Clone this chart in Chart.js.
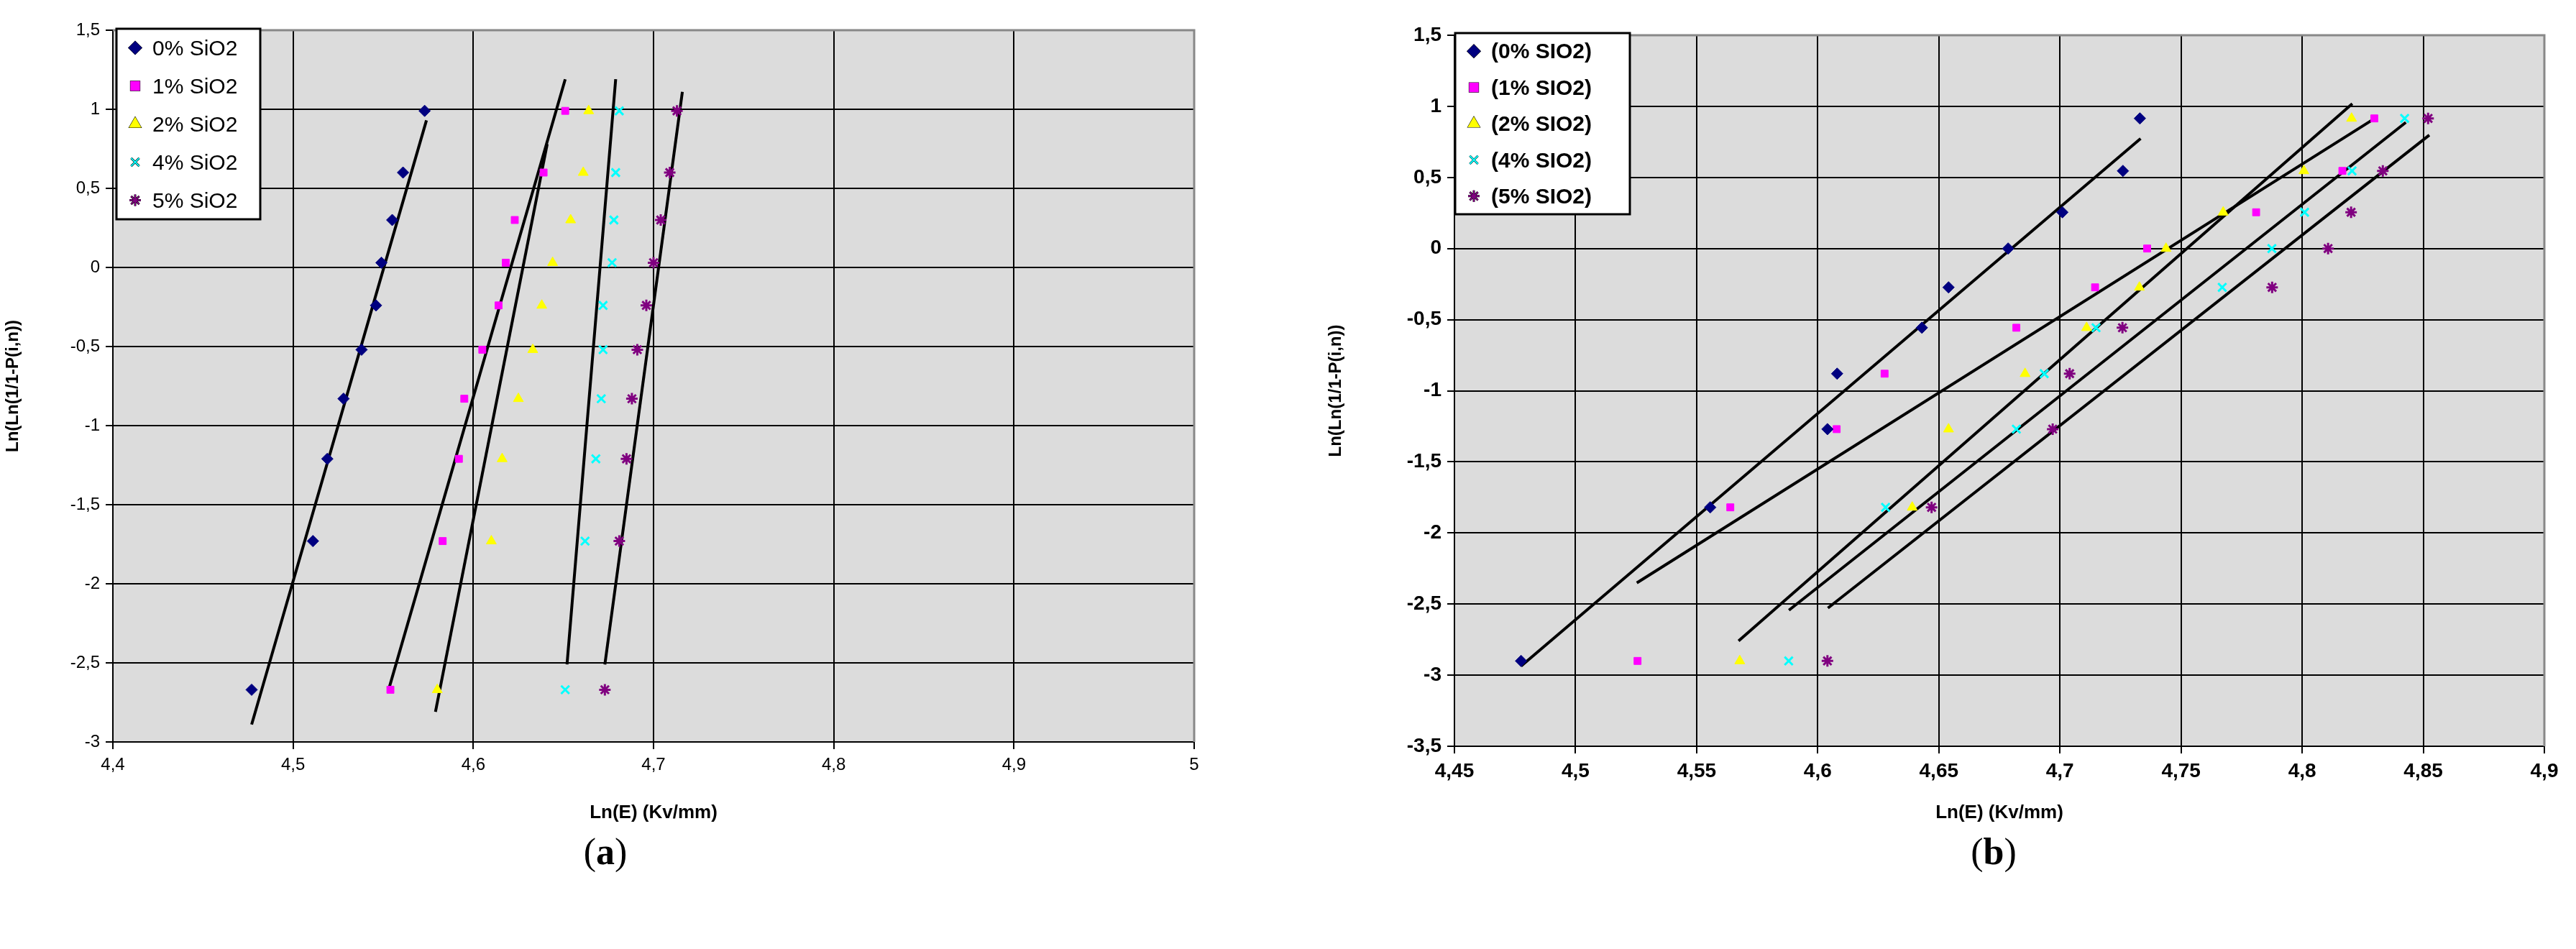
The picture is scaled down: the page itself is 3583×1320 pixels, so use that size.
<!DOCTYPE html>
<html><head><meta charset="utf-8">
<script src="https://cdn.jsdelivr.net/npm/chart.js@4/dist/chart.umd.min.js"></script>
<style>
body{margin:0;width:3583px;height:1320px;background:#fff;position:relative;overflow:hidden}
canvas{position:absolute}
.cap{position:absolute;top:1155px;font-family:"Liberation Serif",serif;font-size:52px;width:200px;text-align:center}
</style></head><body>
<div id="wa" style="position:absolute;left:0;top:0;width:1720px;height:1150px"><canvas id="ca"></canvas></div>
<div id="wb" style="position:absolute;left:1840px;top:0;width:1743px;height:1150px"><canvas id="cb"></canvas></div>
<div class="cap" style="left:742px">(<b>a</b>)</div>
<div class="cap" style="left:2673px">(<b>b</b>)</div>
<script>
// ---- Panel (a) data ----
const labelsA = ["0% SiO2","1% SiO2","2% SiO2","4% SiO2","5% SiO2"];
const yA = [0.99,0.60,0.30,0.03,-0.24,-0.52,-0.83,-1.21,-1.73,-2.67];
const xA0 = [4.573,4.561,4.555,4.549,4.546,4.538,4.528,4.519,4.511,4.477];
const xA1 = [4.651,4.639,4.623,4.618,4.614,4.605,4.595,4.592,4.583,4.554];
const xA2 = [4.664,4.661,4.654,4.644,4.638,4.633,4.625,4.616,4.610,4.580];
const xA4 = [4.681,4.679,4.678,4.677,4.672,4.672,4.671,4.668,4.662,4.651];
const xA5 = [4.713,4.709,4.704,4.700,4.696,4.691,4.688,4.685,4.681,4.673];
const fitA = [[4.477,-2.89,4.574,0.93],[4.553,-2.67,4.651,1.19],[4.579,-2.81,4.641,0.78],[4.652,-2.51,4.679,1.19],[4.673,-2.51,4.716,1.11]];
const xTicksA = {min:4.4,max:5,step:0.1};
const yTicksA = {min:-3,max:1.5,step:0.5};
// ---- Panel (b) data ----
const labelsB = ["(0% SIO2)","(1% SIO2)","(2% SIO2)","(4% SIO2)","(5% SIO2)"];
const yB = [-2.90,-1.82,-1.27,-0.88,-0.557,-0.273,0,0.255,0.546,0.915];
const xB0 = [4.4775,4.5556,4.604,4.608,4.643,4.654,4.6786,4.701,4.726,4.733];
const xB1 = [4.5256,4.5639,4.6078,4.6276,4.682,4.7145,4.736,4.781,4.8166,4.8298];
const xB2 = [4.5678,4.639,4.654,4.6856,4.711,4.7328,4.7438,4.7674,4.8007,4.8204];
const xB4 = [4.588,4.628,4.682,4.6935,4.7149,4.767,4.7875,4.801,4.8206,4.8423];
const xB5 = [4.604,4.647,4.697,4.704,4.7258,4.7876,4.8107,4.8202,4.8333,4.852];
const fitB = [[4.4775,-2.936,4.7333,0.773],[4.5253,-2.351,4.8306,0.922],[4.5673,-2.759,4.8207,1.018],[4.5881,-2.543,4.8428,0.887],[4.6042,-2.528,4.8525,0.798]];
const xTicksB = {min:4.45,max:4.9,step:0.05};
const yTicksB = {min:-3.5,max:1.5,step:0.5};

const colors = ["#000080","#FF00FF","#FFFF00","#00FFFF","#800080"];
const styles = ["rectRot","rect","triangle","crossRot","star"];
const radii = [8,7,8,8,8];

function fmt(v){return Number(v.toFixed(2)).toString().replace('.',',');}

function build(canvasId, labels, xs, ys, fits, xt, yt, o){
  const ds = [];
  xs.forEach((arr,i)=>{
    ds.push({label:labels[i],type:'scatter',data:arr.map((x,k)=>({x:x,y:ys[k]})),
      pointStyle:styles[i],pointRadius:radii[i],backgroundColor:colors[i],borderColor:colors[i],
      borderWidth:(styles[i]=='crossRot'||styles[i]=='star')?3:1,order:1,isPts:true});
  });
  fits.forEach(f=>{
    ds.push({label:'',type:'line',data:[{x:f[0],y:f[1]},{x:f[2],y:f[3]}],borderColor:'#000',borderWidth:4,pointRadius:0,order:2});
  });
  const bgPlugin={id:'bg',beforeDraw(c){const a=c.chartArea,ctx=c.ctx;ctx.save();ctx.fillStyle='#DCDCDC';ctx.fillRect(a.left,a.top,a.right-a.left,a.bottom-a.top);ctx.restore();},
    afterDraw(c){const a=c.chartArea,ctx=c.ctx;ctx.save();ctx.strokeStyle='#888';ctx.lineWidth=3;ctx.beginPath();ctx.moveTo(a.left,a.top);ctx.lineTo(a.right,a.top);ctx.lineTo(a.right,a.bottom);ctx.stroke();
      // legend box
      const L=o.leg;ctx.fillStyle='#fff';ctx.fillRect(L.x,L.y,L.w,L.h);ctx.strokeStyle='#000';ctx.lineWidth=3;ctx.strokeRect(L.x,L.y,L.w,L.h);
      const rh=L.h/5;ctx.font=o.legFont;ctx.textBaseline='middle';
      for(let i=0;i<5;i++){const cy=L.y+rh*(i+0.5);
        Chart.helpers.drawPoint(ctx,{pointStyle:styles[i],radius:o.legR,borderWidth:2,rotation:0},L.x+26,cy);
        ctx.save();ctx.fillStyle=colors[i];ctx.strokeStyle=colors[i];ctx.lineWidth=2;ctx.beginPath();
        Chart.helpers.drawPoint(ctx,{pointStyle:styles[i],radius:o.legR,rotation:0},L.x+26,cy);ctx.fill();ctx.stroke();ctx.restore();
        ctx.fillStyle='#000';ctx.fillText(c.data.datasets[i].label,L.x+50,cy+2);}
      ctx.restore();}};
  return new Chart(document.getElementById(canvasId),{
    data:{datasets:ds},
    plugins:[bgPlugin],
    options:{responsive:true,maintainAspectRatio:false,animation:false,
      layout:{padding:{top:o.top,right:o.right,left:0,bottom:0}},
      plugins:{legend:{display:false},tooltip:{enabled:false}},
      scales:{
        x:{type:'linear',min:xt.min,max:xt.max,
          ticks:{stepSize:xt.step,callback:fmt,color:'#000',font:{family:'Liberation Sans',size:o.tickSize,weight:o.tickW},padding:8},
          grid:{color:'#000',lineWidth:2,tickLength:10,tickColor:'#000'},border:{color:'#000',width:2},
          title:{display:true,text:'Ln(E) (Kv/mm)',color:'#000',font:{family:'Liberation Sans',size:26,weight:'bold'},padding:{top:14}},
          afterFit(ax){ax.height=o.xh;}},
        y:{type:'linear',min:yt.min,max:yt.max,
          ticks:{stepSize:yt.step,callback:fmt,color:'#000',font:{family:'Liberation Sans',size:o.tickSize,weight:o.tickW},padding:8},
          grid:{color:'#000',lineWidth:2,tickLength:10,tickColor:'#000'},border:{color:'#000',width:2},
          title:{display:true,text:'Ln(Ln(1/1-P(i,n))',color:'#000',font:{family:'Liberation Sans',size:24,weight:'bold'},padding:{bottom:4}},
          afterFit(ax){ax.width=o.yw;}}
      }}});
}
build('ca',labelsA,[xA0,xA1,xA2,xA4,xA5],yA,fitA,xTicksA,yTicksA,
  {top:42,right:59,xh:118,yw:157,tickSize:24,tickW:'normal',leg:{x:162,y:40,w:200,h:265},legFont:'30px "Liberation Sans"',legR:8});
build('cb',labelsB,[xB0,xB1,xB2,xB4,xB5],yB,fitB,xTicksB,yTicksB,
  {top:49,right:44,xh:112,yw:183,tickSize:28,tickW:'bold',leg:{x:184,y:46,w:243,h:252},legFont:'bold 30px "Liberation Sans"',legR:8});
</script></body></html>
